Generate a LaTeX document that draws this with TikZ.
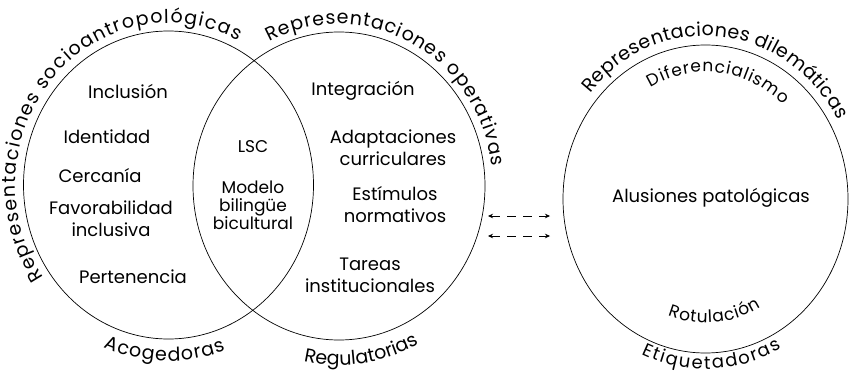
\documentclass[tikz,border=0pt]{standalone}
\usepackage{fontspec}
\setmainfont{Poppins}
\usetikzlibrary{shapes.geometric,decorations.text,arrows.meta}
\newcommand\outfont{\fontsize{19}{22}\selectfont}
\newcommand\infont{\fontsize{17}{20}\selectfont}
\begin{document}
\begin{tikzpicture}[x=1pt,y=1pt,
  venn/.style={draw, ellipse, line width=0.7pt, inner sep=0pt, minimum height=308pt},
  item/.style={align=center, font=\fontsize{18}{22}\selectfont, inner sep=1pt},
  small/.style={align=center, font=\fontsize{17}{18}\selectfont, inner sep=1pt},
  link/.style={line width=0.6pt, dash pattern=on 9pt off 7pt, {Stealth[length=5pt,width=4.5pt]}-{Stealth[length=5pt,width=4.5pt]}},
  curved/.style={decorate, decoration={text along path, text align=fit to path, text={#1}}}
]
\useasboundingbox (0,0) rectangle (849,373);

% circles
\node[venn, minimum width=290pt] (L) at (168.5,188) {};
\node[venn, minimum width=292pt] (M) at (339,187) {};
\node[venn, minimum width=285pt] (T) at (705.5,174) {};

% curved labels
\path[curved={|\outfont|Representaciones socioantropológicas}] (L.center) ++(215:153 and 162) arc[start angle=215, end angle=63, x radius=153, y radius=162];
\path[curved={|\outfont|Acogedoras}] (L.center) ++(247:167 and 176) arc[start angle=247, end angle=290, x radius=167, y radius=176];
\path[curved={|\outfont|Representaciones operativas}] (M.center) ++(117:154 and 162) arc[start angle=117, end angle=7, x radius=154, y radius=162];
\path[curved={|\outfont|Regulatorias}] (M.center) ++(258:170 and 179) arc[start angle=258, end angle=298, x radius=170, y radius=179];
\path[curved={|\outfont|Representaciones dilemáticas}] (T.center) ++(139.5:151.5 and 163) arc[start angle=139.5, end angle=29, x radius=151.5, y radius=163];
\path[curved={|\fontsize{18}{21}\selectfont|Etiquetadoras}] (T.center) ++(246:158.5 and 170) arc[start angle=246, end angle=298.6, x radius=158.5, y radius=170];
\path[curved={|\infont|Diferencialismo}] (T.center) ++(118.4:115.5 and 127) arc[start angle=118.4, end angle=47.8, x radius=115.5, y radius=127];
\path[curved={|\infont|Rotulación}] (T.center) ++(250.4:112.5 and 124) arc[start angle=250.4, end angle=299.5, x radius=112.5, y radius=124];

% left items
\node[item] (inclusion) at (128,282) {Inclusión};
\node[item] (identidad) at (107,236) {Identidad};
\node[item] (cercania) at (100,197) {Cercanía};
\node[item] (favor) at (111,154) {Favorabilidad\\inclusiva};
\node[item] (pertenencia) at (133,96) {Pertenencia};
% intersection
\node[small] (lsc) at (253,226) {LSC};
\node[small] (modelo) at (253,168) {Modelo\\bilingüe\\bicultural};
% middle items
\node[item] (integracion) at (363,282) {Integración};
\node[item] (adapt) at (393,225) {Adaptaciones\\curriculares};
\node[item] (estim) at (395,168) {Estímulos\\normativos};
\node[item] (tareas) at (370,98) {Tareas\\institucionales};
% right item
\node[item] (alus) at (711,175) {Alusiones patológicas};

% arrows
\coordinate (a1) at (488,157);
\coordinate (b1) at (550,157);
\coordinate (a2) at (488,137);
\coordinate (b2) at (550,137);
\draw[link] (a1) -- (b1);
\draw[link] (a2) -- (b2);
\end{tikzpicture}
\end{document}
